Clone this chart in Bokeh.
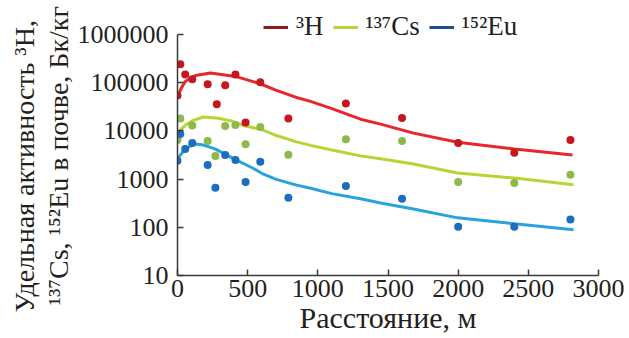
from bokeh.plotting import figure
from bokeh.models import FixedTicker, PrintfTickFormatter, Legend, LegendItem, Title
from bokeh.embed import file_html
from bokeh.resources import INLINE

# measured points
h3_x = [0, 20, 55, 105, 215, 280, 340, 413, 485, 590, 790, 1200, 1600, 2000, 2400, 2800]
h3_y = [54000, 240000, 148000, 118000, 93000, 35500, 89000, 148000, 15000, 102000, 18000, 37000, 18500, 5600, 3500, 6500]

cs_x = [0, 20, 105, 215, 270, 340, 413, 485, 590, 790, 1200, 1600, 2000, 2400, 2800]
cs_y = [6500, 18000, 13000, 6200, 3000, 12600, 13200, 5300, 12000, 3200, 6700, 6200, 870, 830, 1230]

eu_x = [0, 20, 55, 105, 215, 270, 340, 413, 485, 590, 790, 1200, 1600, 2000, 2400, 2800]
eu_y = [2400, 8600, 4200, 5600, 1950, 660, 3150, 2500, 870, 2300, 410, 720, 390, 103, 103, 145]

# fitted curves
h3_fit_x = [0, 30, 57, 128, 235, 413, 590, 700, 841, 948, 1100, 1304, 1447, 1682, 1996, 2402, 2815]
h3_fit_y = [52500, 80000, 107000, 141000, 159000, 135000, 95000, 70000, 50000, 41000, 29000, 17500, 13800, 9000, 5800, 4200, 3150]

cs_fit_x = [5, 57, 107, 185, 292, 392, 485, 606, 700, 841, 948, 1100, 1304, 1447, 1682, 1996, 2402, 2822]
cs_fit_y = [9500, 13200, 16300, 19400, 18300, 15800, 12600, 10500, 8100, 6000, 5000, 4000, 3030, 2630, 2050, 1340, 1050, 760]

eu_fit_x = [0, 57, 128, 185, 271, 392, 535, 600, 699, 841, 948, 1100, 1304, 1447, 1682, 1996, 2402, 2822]
eu_fit_y = [2640, 4350, 5350, 5100, 4200, 2730, 1700, 1320, 1000, 760, 645, 500, 390, 320, 240, 157, 118, 89]

x_ticks = [0, 500, 1000, 1500, 2000, 2500, 3000]
y_ticks = [10, 100, 1000, 10000, 100000, 1000000]
labels = ["³H", "¹³⁷Cs", "¹⁵²Eu"]
y_label_lines = ["Удельная активность ³H,", "¹³⁷Cs, ¹⁵²Eu в почве, Бк/кг"]

FONT = "'Liberation Serif', 'Times New Roman', serif"

# frame extends to the top of the page so the legend (drawn inside the frame) is visible;
# the y axis line itself is bounded to 10..1e6
p = figure(width=629, height=338, x_range=(0, 3000), y_range=(10, 5.07e6),
           y_axis_type="log", output_backend="svg", toolbar_location=None,
           min_border_left=177, min_border_right=31, min_border_top=0, min_border_bottom=63)
p.outline_line_color = None
p.grid.visible = False
p.background_fill_color = "white"
p.yaxis.bounds = (10, 1000000)

for ax in (p.xaxis[0], p.yaxis[0]):
    ax.major_tick_in = 6
    ax.major_tick_out = 0
    ax.minor_tick_line_color = None
    ax.axis_line_color = "#3a3a3a"
    ax.axis_line_width = 1.5
    ax.major_tick_line_color = "#3a3a3a"
    ax.major_tick_line_width = 1.5
    ax.major_label_text_font = FONT
    ax.major_label_text_font_size = "26px"
    ax.major_label_text_color = "#231f20"
    ax.axis_label_text_font = FONT
    ax.axis_label_text_font_style = "normal"
    ax.axis_label_text_color = "#231f20"

p.xaxis.ticker = FixedTicker(ticks=x_ticks)
p.yaxis.ticker = FixedTicker(ticks=y_ticks)
p.yaxis.formatter = PrintfTickFormatter(format="%d")
p.xaxis.major_label_standoff = 4
p.yaxis.major_label_standoff = 9
p.xaxis.axis_label = "Расстояние, м"
p.xaxis.axis_label_text_font_size = "30px"
p.xaxis.axis_label_standoff = 1

# y label as two side titles (outer line added last); align="left" starts text at the bottom
t2 = Title(text=y_label_lines[1], align="left", offset=-30, standoff=2,
           text_font=FONT, text_font_size="28px", text_font_style="normal", text_color="#231f20")
t1 = Title(text=y_label_lines[0], align="left", offset=-37, standoff=0,
           text_font=FONT, text_font_size="28px", text_font_style="normal", text_color="#231f20")
p.add_layout(t2, "left")
p.add_layout(t1, "left")

p.line(h3_fit_x, h3_fit_y, line_color="#e8262b", line_width=3)
p.line(cs_fit_x, cs_fit_y, line_color="#b8d432", line_width=3)
p.line(eu_fit_x, eu_fit_y, line_color="#2aa3dc", line_width=3)

p.scatter(h3_x, h3_y, size=8, fill_color="#c4181f", line_color=None)
p.scatter(cs_x, cs_y, size=8, fill_color="#8cba4a", line_color=None)
p.scatter(eu_x, eu_y, size=8, fill_color="#1a6ebd", line_color=None)

# single-point lines (draw nothing) that carry the legend colours
lr = p.line(h3_fit_x[:1], h3_fit_y[:1], line_color="#8e1a1e", line_width=3)
lg = p.line(cs_fit_x[:1], cs_fit_y[:1], line_color="#b8d432", line_width=3)
lb = p.line(eu_fit_x[:1], eu_fit_y[:1], line_color="#1f4e8c", line_width=3)

legend = Legend(items=[LegendItem(label=labels[0], renderers=[lr]),
                       LegendItem(label=labels[1], renderers=[lg]),
                       LegendItem(label=labels[2], renderers=[lb])],
                orientation="horizontal", location=(86, 233),
                label_text_font=FONT, label_text_font_size="27px", label_text_color="#231f20",
                glyph_width=25, glyph_height=20, spacing=9, padding=0, margin=0,
                label_standoff=8, border_line_color=None, background_fill_alpha=0)
p.add_layout(legend, "center")

open("out.html", "w").write(file_html(p, INLINE))
